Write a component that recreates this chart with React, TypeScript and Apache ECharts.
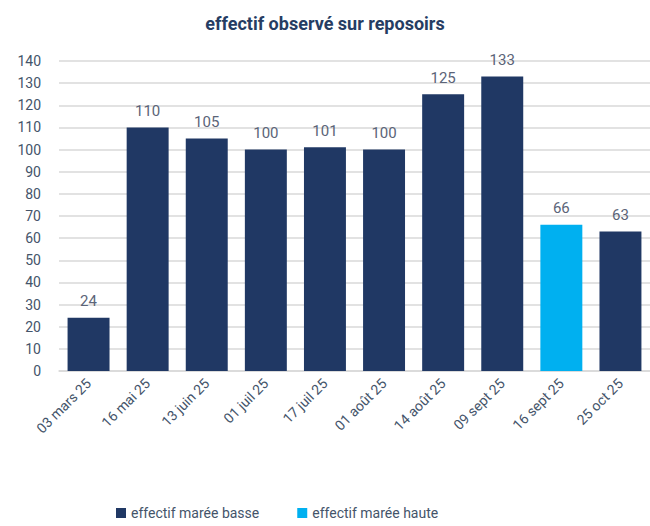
import React, { useEffect, useRef } from "react";
import * as echarts from "echarts";

const categories = ["03 mars 25", "16 mai 25", "13 juin 25", "01 juil 25", "17 juil 25", "01 août 25", "14 août 25", "09 sept 25", "16 sept 25", "25 oct 25"];
const basse = [24, 110, 105, 100, 101, 100, 125, 133, null, 63];
const haute = [null, null, null, null, null, null, null, null, 66, null];
const seriesNames = ["effectif marée basse", "effectif marée haute"];
const yTicks = { min: 0, max: 140, interval: 10 };

const FONT = "'Roboto', sans-serif";

export default function App() {
  const ref = useRef<HTMLDivElement>(null);
  useEffect(() => {
    const chart = echarts.init(ref.current!, null, { renderer: "svg" });
    const label = { show: true, position: "top", color: "#5B6478", fontSize: 15, fontFamily: FONT, distance: 9 };
    chart.setOption({
      animation: false,
      textStyle: { fontFamily: FONT },
      title: {
        text: "effectif observé sur reposoirs",
        left: "center",
        top: 9,
        textStyle: { fontSize: 18, fontWeight: "bold", color: "#263D63", fontFamily: FONT },
      },
      grid: { left: 59, right: 0, top: 61, bottom: 155, containLabel: false },
      legend: {
        data: seriesNames,
        left: 111,
        bottom: 1,
        itemWidth: 10,
        itemHeight: 10,
        itemGap: 38,
        icon: "rect",
        textStyle: { color: "#44546A", fontSize: 14, fontFamily: FONT },
      },
      xAxis: {
        type: "category",
        data: categories,
        axisTick: { show: false },
        axisLine: { lineStyle: { color: "#D9D9D9", width: 1.5 } },
        axisLabel: { rotate: 45, color: "#44546A", fontSize: 14, fontFamily: FONT, margin: 10, interval: 0 },
      },
      yAxis: {
        type: "value",
        min: yTicks.min,
        max: yTicks.max,
        interval: yTicks.interval,
        axisLine: { show: false },
        axisTick: { show: false },
        axisLabel: { color: "#44546A", fontSize: 14, fontFamily: FONT, margin: 18 },
        splitLine: { lineStyle: { color: "#D9D9D9", width: 1.5 } },
      },
      series: [
        { name: seriesNames[0], type: "bar", stack: "s", data: basse, barWidth: "71%", itemStyle: { color: "#203864" }, label },
        { name: seriesNames[1], type: "bar", stack: "s", data: haute, barWidth: "71%", itemStyle: { color: "#00B0F0" }, label },
      ],
    });
    return () => chart.dispose();
  }, []);
  return <div ref={ref} style={{ width: 650, height: 526, position: "absolute", left: 0, top: 0 }} />;
}
